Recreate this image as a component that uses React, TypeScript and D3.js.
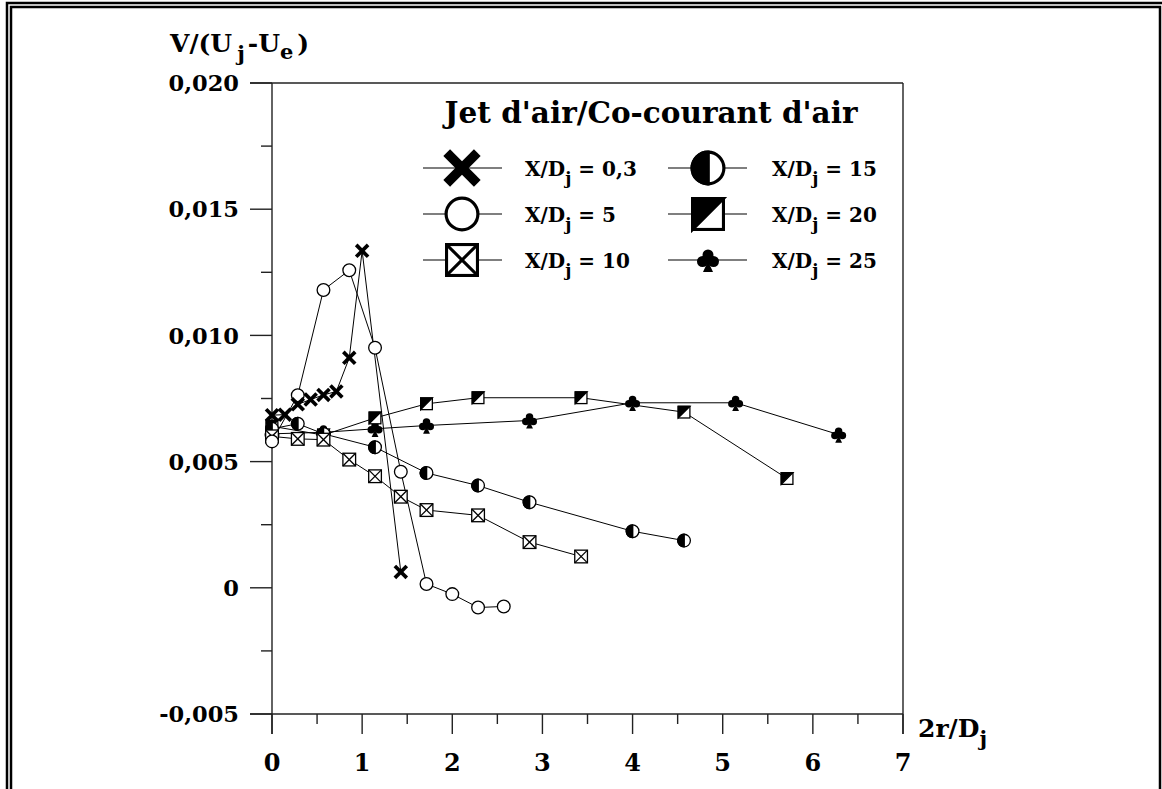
import React from "react";
import * as d3 from "d3";

const xTicks = [0, 1, 2, 3, 4, 5, 6, 7];
const yTicks = [-0.005, 0, 0.005, 0.01, 0.015, 0.02];
const yTickLabels = ["-0,005", "0", "0,005", "0,010", "0,015", "0,020"];

const s03x = [0, 0.143, 0.286, 0.429, 0.571, 0.714, 0.857, 1.0, 1.429];
const s03y = [0.00684, 0.00686, 0.00727, 0.00746, 0.00764, 0.00778, 0.00911, 0.01335, 0.00063];

const s5x = [0, 0.286, 0.571, 0.857, 1.143, 1.429, 1.714, 2.0, 2.286, 2.571];
const s5y = [0.0058, 0.00763, 0.0118, 0.01258, 0.00951, 0.0046, 0.00015, -0.00025, -0.00078, -0.00074];

const s10x = [0, 0.286, 0.571, 0.857, 1.143, 1.429, 1.714, 2.286, 2.857, 3.429];
const s10y = [0.006, 0.0059, 0.00587, 0.00508, 0.00442, 0.00361, 0.00308, 0.00287, 0.00181, 0.00124];

const s15x = [0, 0.286, 0.571, 1.143, 1.714, 2.286, 2.857, 4.0, 4.571];
const s15y = [0.0063, 0.0065, 0.0061, 0.00557, 0.00455, 0.00405, 0.00339, 0.00224, 0.00187];

const s20x = [0, 0.571, 1.143, 1.714, 2.286, 3.429, 4.571, 5.714];
const s20y = [0.0064, 0.00605, 0.00673, 0.00729, 0.00753, 0.00753, 0.00696, 0.00433];

const s25x = [0, 0.571, 1.143, 1.714, 2.857, 4.0, 5.143, 6.286];
const s25y = [0.0061, 0.00616, 0.0063, 0.00643, 0.00663, 0.00733, 0.00733, 0.00607];

const seriesNames = ["0,3", "5", "10", "15", "20", "25"];
const seriesKinds = ["cross", "circle", "xsquare", "halfcircle", "halfsquare", "club"];

const FONT = "'DejaVu Serif', serif";

const x = d3.scaleLinear().domain([0, 7]).range([272, 903]);
const y = d3.scaleLinear().domain([-0.005, 0.02]).range([714, 83]);

function Marker({ kind, cx, cy, s }: { kind: string; cx: number; cy: number; s: number }) {
  const h = s / 2;
  const sw = Math.max(1.3, s / 11);
  const t = `translate(${cx},${cy})`;
  if (kind === "cross") {
    const a = h * 0.85;
    return (
      <g transform={t} stroke="#000" strokeWidth={s / 3.8}>
        <line x1={-a} y1={-a} x2={a} y2={a} />
        <line x1={-a} y1={a} x2={a} y2={-a} />
      </g>
    );
  }
  if (kind === "circle") {
    return <circle transform={t} r={h - sw / 2} fill="#fff" stroke="#000" strokeWidth={sw} />;
  }
  if (kind === "xsquare") {
    const a = h - sw / 2;
    return (
      <g transform={t} stroke="#000" strokeWidth={sw}>
        <rect x={-a} y={-a} width={2 * a} height={2 * a} fill="#fff" />
        <line x1={-a} y1={-a} x2={a} y2={a} />
        <line x1={-a} y1={a} x2={a} y2={-a} />
      </g>
    );
  }
  if (kind === "halfcircle") {
    const r = h - sw / 2;
    return (
      <g transform={t} stroke="#000" strokeWidth={sw}>
        <circle r={r} fill="#fff" />
        <path d={`M0,${-r} A${r},${r} 0 0 0 0,${r} Z`} fill="#000" />
        <line x1={0} y1={-r} x2={0} y2={r} />
      </g>
    );
  }
  if (kind === "halfsquare") {
    const a = h - sw / 2;
    return (
      <g transform={t} stroke="#000" strokeWidth={sw}>
        <rect x={-a} y={-a} width={2 * a} height={2 * a} fill="#fff" />
        <path d={`M${-a},${-a} L${a},${-a} L${-a},${a} Z`} fill="#000" />
      </g>
    );
  }
  // club
  const r = s * 0.22;
  return (
    <g transform={t} fill="#000">
      <circle cx={0} cy={-s * 0.2} r={r} />
      <circle cx={-s * 0.22} cy={s * 0.06} r={r} />
      <circle cx={s * 0.22} cy={s * 0.06} r={r} />
      <rect x={-s * 0.1} y={-s * 0.15} width={s * 0.2} height={s * 0.3} />
      <path d={`M0,${s * 0.05} L${-s * 0.2},${s * 0.48} L${s * 0.2},${s * 0.48} Z`} />
    </g>
  );
}

export default function App() {
  const all = [
    [s03x, s03y],
    [s5x, s5y],
    [s10x, s10y],
    [s15x, s15y],
    [s20x, s20y],
    [s25x, s25y],
  ];
  const line = d3
    .line<[number, number]>()
    .x((d) => x(d[0]))
    .y((d) => y(d[1]));
  const dataSizes = [14, 14, 14, 14, 13, 17];
  const legendSizes = [36, 35, 34, 35, 34, 25];
  const minorX = d3.range(0, 7, 0.5).filter((v) => v % 1 !== 0);
  const minorY = [-0.0025, 0.0025, 0.0075, 0.0125, 0.0175];
  const legendRows = [168, 214, 260];
  const legendCols = [
    { l1: 423, l2: 502, cx: 462, tx: 525 },
    { l1: 668, l2: 747, cx: 708, tx: 772 },
  ];

  return (
    <svg
      width={1162}
      height={789}
      style={{ position: "absolute", left: 0, top: 0, background: "#fff" }}
      fontFamily={FONT}
      fontWeight="bold"
    >
      <rect x={0} y={0} width={1162} height={789} fill="#fff" />
      {/* double frame */}
      <rect x={7} y={3} width={1170} height={800} fill="none" stroke="#000" strokeWidth={2.5} />
      <rect x={11} y={7} width={1149} height={800} fill="none" stroke="#000" strokeWidth={2.5} />

      {/* axes frame */}
      <g stroke="#222" strokeWidth={1.4} fill="none">
        <line x1={250} y1={y(0.02)} x2={x(7)} y2={y(0.02)} />
        <line x1={250} y1={y(-0.005)} x2={x(7)} y2={y(-0.005)} />
        <line x1={x(0)} y1={y(0.02)} x2={x(0)} y2={y(-0.005) + 20} />
        <line x1={x(7)} y1={y(0.02)} x2={x(7)} y2={y(-0.005) + 20} />
        {yTicks.map((v) => (
          <line key={"yt" + v} x1={x(0) - 22} x2={x(0)} y1={y(v)} y2={y(v)} />
        ))}
        {minorY.map((v) => (
          <line key={"ym" + v} x1={x(0) - 11} x2={x(0)} y1={y(v)} y2={y(v)} />
        ))}
        {xTicks.map((v) => (
          <line key={"xt" + v} x1={x(v)} x2={x(v)} y1={y(-0.005)} y2={y(-0.005) + 20} />
        ))}
        {minorX.map((v) => (
          <line key={"xm" + v} x1={x(v)} x2={x(v)} y1={y(-0.005)} y2={y(-0.005) + 10} />
        ))}
      </g>

      {/* tick labels */}
      <g fontSize={22.5} fill="#000">
        {yTicks.map((v, i) => (
          <text key={"yl" + v} x={239} y={y(v)} dy="0.36em" textAnchor="end">
            {yTickLabels[i]}
          </text>
        ))}
        {xTicks.map((v) => (
          <text key={"xl" + v} x={x(v)} y={771} fontSize={24} textAnchor="middle">
            {v}
          </text>
        ))}
      </g>

      {/* axis titles */}
      <text x={170} y={52} fontSize={25} fill="#000">
        V/(U
        <tspan dx={5} dy={9} fontSize={21}>j</tspan>
        <tspan dx={3} dy={-9}>-U</tspan>
        <tspan dy={7} fontSize={21}>e</tspan>
        <tspan dx={4} dy={-7}>)</tspan>
      </text>
      <text x={918} y={737} fontSize={25} fill="#000">
        2r/D
        <tspan dy={9} fontSize={21}>j</tspan>
      </text>

      {/* series */}
      {all.map(([xs, ys], i) => (
        <path
          key={"l" + i}
          d={line(xs.map((v, k) => [v, ys[k]]) as [number, number][]) || ""}
          fill="none"
          stroke="#000"
          strokeWidth={1}
        />
      ))}
      {all
        .map((s, i) => i)
        .reverse()
        .map((i) => (
          <g key={"m" + i}>
            {all[i][0].map((v, k) => (
              <Marker key={k} kind={seriesKinds[i]} cx={x(v)} cy={y(all[i][1][k])} s={dataSizes[i]} />
            ))}
          </g>
        ))}

      {/* legend */}
      <text x={651} y={123} fontSize={29.5} textAnchor="middle" fill="#000">
        Jet d'air/Co-courant d'air
      </text>
      {seriesNames.map((n, i) => {
        const col = legendCols[Math.floor(i / 3)];
        const ry = legendRows[i % 3];
        return (
          <g key={"lg" + i}>
            <line x1={col.l1} x2={col.l2} y1={ry} y2={ry} stroke="#000" strokeWidth={1.2} />
            <Marker kind={seriesKinds[i]} cx={col.cx} cy={ry} s={legendSizes[i]} />
            <text x={col.tx} y={ry + 8} fontSize={20} fill="#000">
              X/D
              <tspan dy={8} fontSize={17}>j</tspan>
              <tspan dy={-8}>{" = " + n}</tspan>
            </text>
          </g>
        );
      })}
    </svg>
  );
}
